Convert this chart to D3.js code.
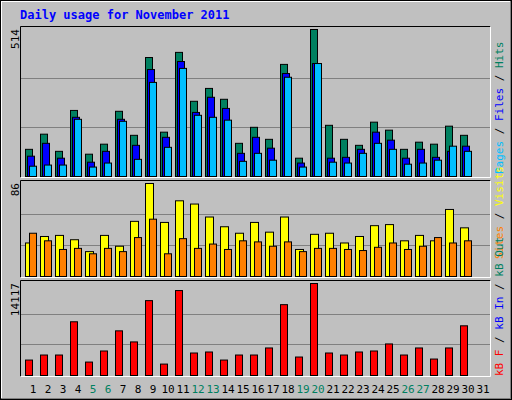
<!DOCTYPE html>
<html><head><meta charset="utf-8">
<script src="https://cdn.jsdelivr.net/npm/d3@7"></script>
<style>body{margin:0;background:#fff}svg{display:block}</style>
</head><body>
<script>
// daily values
var days = d3.range(1, 32);
var weekend = [5, 6, 12, 13, 19, 20, 26, 27];
var hits  = [95,148,88,231,78,113,228,144,416,155,434,263,308,270,116,172,130,392,64,514,179,130,109,190,162,95,120,113,176,144,0];
var files = [71,116,64,207,50,88,200,109,374,137,402,224,277,238,81,137,99,360,47,395,64,67,95,155,127,64,95,67,88,106,0];
var pages = [36,40,40,200,33,47,193,60,329,102,378,214,207,197,53,81,57,347,33,395,50,47,81,116,95,43,47,57,106,88,0];
var visits = [31,37,38,34,23,38,28,51,86,50,70,67,55,46,40,50,41,55,25,39,40,31,37,47,48,33,38,33,62,45,0];
var sites  = [40,33,25,26,21,26,23,36,53,21,35,26,30,25,33,32,28,32,23,26,26,25,24,27,31,25,28,36,31,33,0];
var kbytes = [2370,3143,3143,8243,2061,3761,6852,5152,11489,1752,13035,3452,3606,2370,3143,3143,4225,10871,2834,14117,3452,3143,3606,3761,4843,3143,4225,2525,4225,7625,0];

var W = 512, H = 400;
var font = "'DejaVu Sans Mono', monospace";

var svg = d3.select('body').append('svg').attr('width', W).attr('height', H);

svg.append('rect').attr('width', W).attr('height', H).attr('fill', '#c0c0c0');
svg.append('path').attr('d', 'M1,' + (H - 1) + 'V1H' + (W - 1)).attr('stroke', '#fff').attr('stroke-width', 2).attr('fill', 'none');
svg.append('path').attr('d', 'M1,' + (H - 1) + 'H' + (W - 1) + 'V1').attr('stroke', '#808080').attr('stroke-width', 2).attr('fill', 'none');
svg.append('rect').attr('x', 0.5).attr('y', 0.5).attr('width', W - 1).attr('height', H - 1).attr('fill', 'none').attr('stroke', '#000');

svg.append('text').attr('x', 20).attr('y', 19)
	.attr('font-family', font).attr('font-size', 12).attr('font-weight', 'bold')
	.attr('fill', '#0000ff').text('Daily usage for November 2011');

var x = d3.scaleBand().domain(days).range([25, 490]);

function panel(top, bottom, max, label) {
	svg.append('rect').attr('x', 20).attr('y', top).attr('width', 471).attr('height', bottom - top + 2)
		.attr('fill', '#c0c0c0');
	svg.append('path').attr('d', 'M20.5,' + (bottom + 1.5) + 'V' + (top + 0.5) + 'H490.5').attr('stroke', '#000').attr('fill', 'none');
	svg.append('path').attr('d', 'M20.5,' + (bottom + 1.5) + 'H490.5V' + (top + 0.5)).attr('stroke', '#fff').attr('fill', 'none');
	var y = d3.scaleLinear().domain([0, max]).range([bottom, top + 3]);
	[1 / 3, 2 / 3].forEach(function(f) {
		svg.append('line').attr('x1', 21).attr('x2', 490).attr('y1', Math.round(y(max * f)) + 0.5).attr('y2', Math.round(y(max * f)) + 0.5)
			.attr('stroke', '#808080');
	});
	svg.append('text').attr('transform', 'translate(19,' + (top + 3) + ') rotate(-90)')
		.attr('text-anchor', 'end').attr('font-family', font).attr('font-size', 11).attr('fill', '#000').text(label);
	return y;
}

function bars(y, data, dx, w, color) {
	svg.append('g').selectAll('rect').data(data.filter(function(v) { return v > 0; }))
		.enter().append('rect')
		.attr('x', function(v, i) { return x(days[i]) + dx + 0.5; })
		.attr('y', function(v) { return y(v) + 0.5; })
		.attr('width', w)
		.attr('height', function(v) { return y(0) - y(v); })
		.attr('fill', color).attr('stroke', '#000');
}

function legend(x0, yEnd, parts) {
	var t = svg.append('text').attr('transform', 'translate(' + x0 + ',' + yEnd + ') rotate(-90)')
		.attr('font-family', font).attr('font-size', 11);
	parts.forEach(function(p) { t.append('tspan').attr('fill', p[1]).text(p[0]); });
}

var y1 = panel(26, 176, 514, '514');
bars(y1, hits, 0, 7, '#008060');
bars(y1, files, 2, 7, '#0000ff');
bars(y1, pages, 4, 7, '#00bfff');

var y2 = panel(180, 276, 86, '86');
bars(y2, visits, 0, 8, '#ffff00');
bars(y2, sites, 4, 7, '#ff8000');

var y3 = panel(280, 375, 14117, '14117');
bars(y3, kbytes, 0, 7, '#ff0000');

legend(503, 174, [['Pages', '#00bfff'], [' / ', '#000'], ['Files', '#0000ff'], [' / ', '#000'], ['Hits', '#008060']]);
legend(503, 259, [['Sites', '#ff8000'], [' / ', '#000'], ['Visits', '#ffff00']]);
legend(503, 376, [['kB F', '#ff0000'], [' / ', '#000'], ['kB In', '#0000ff'], [' / ', '#000'], ['kB Out', '#008060']]);

svg.append('g').selectAll('text').data(days).enter().append('text')
	.attr('x', function(d) { return x(d) + 8; })
	.attr('y', 393)
	.attr('text-anchor', 'middle').attr('font-family', font).attr('font-size', 11)
	.attr('fill', function(d) { return weekend.indexOf(d) >= 0 ? '#008060' : '#000'; })
	.text(function(d) { return d; });
</script>
</body></html>
